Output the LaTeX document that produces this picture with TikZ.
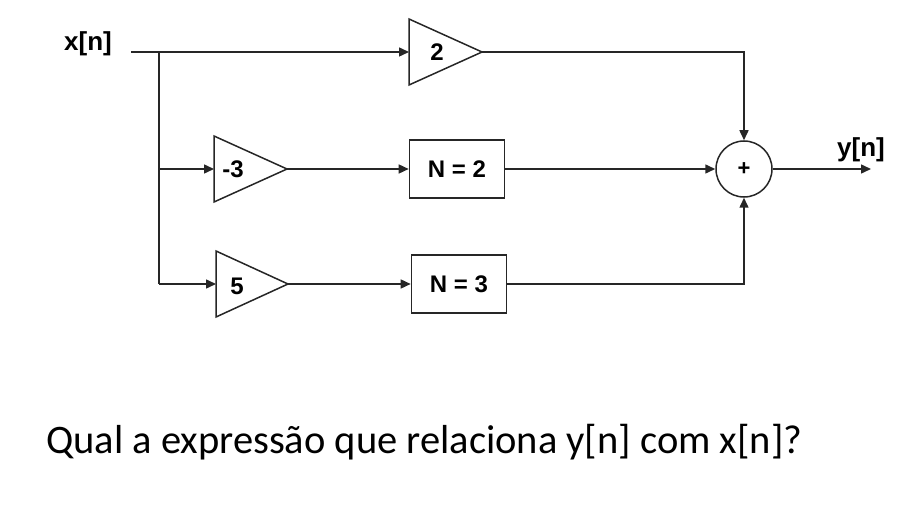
\documentclass[tikz,border=0pt]{standalone}
\usepackage{fontspec}
\setmainfont{Liberation Sans}
\newfontfamily\qfont{Carlito}
\usetikzlibrary{arrows.meta}
\begin{document}
\begin{tikzpicture}[x=1pt,y=-1pt,
  wire/.style={line width=1.5pt,draw=black!85},
  arr/.style={wire,-{Triangle[length=10pt,width=9pt]}},
  gainlbl/.style={font=\bfseries\fontsize{24}{24}\selectfont,inner sep=0pt},
  blk/.style={draw=black!85,line width=1.6pt,minimum width=95pt,minimum height=58pt,font=\bfseries\fontsize{24}{24}\selectfont,inner sep=0pt},
  sumnode/.style={circle,draw=black!85,line width=1.5pt,minimum size=56pt,inner sep=0pt,font=\bfseries\fontsize{22}{22}\selectfont},
  sig/.style={font=\bfseries\fontsize{26}{26}\selectfont,inner sep=0pt}]
\useasboundingbox (0,0) rectangle (922,508);
% input
\node[sig] (x) at (88,44) {x[n]};
\coordinate (xs) at (131,52);
\coordinate (br) at (159,52);
\coordinate (brm) at (159,169);
\coordinate (brb) at (159,284);
% gain 2
\coordinate (g1in) at (409,52);
\coordinate (g1out) at (482,52);
\draw[wire] (409,19) -- (409,85) -- (g1out) -- cycle;
\node[gainlbl] (g1) at (437,52) {2};
% gain -3
\coordinate (g2in) at (214,169);
\coordinate (g2out) at (287,169);
\draw[wire] (214,136) -- (214,202) -- (g2out) -- cycle;
\node[gainlbl] (g2) at (233,169) {-3};
% gain 5
\coordinate (g3in) at (216,284);
\coordinate (g3out) at (288,284);
\draw[wire] (216,251) -- (216,317) -- (g3out) -- cycle;
\node[gainlbl] (g3) at (237,286) {5};
% delay blocks
\node[blk] (d2) at (457,169) {N = 2};
\node[blk] (d3) at (459,284) {N = 3};
% summer
\node[sumnode] (s) at (744,169) {+};
\coordinate (yout) at (871,169);
\node[sig] (y) at (861,150) {y[n]};
\coordinate (c1) at (744,52);
\coordinate (c3) at (744,284);
% wiring
\draw[arr] (xs) -- (g1in);
\draw[wire] (br) -- (brb);
\draw[arr] (brm) -- (g2in);
\draw[arr] (brb) -- (g3in);
\draw[arr] (g2out) -- (d2.west);
\draw[arr] (g3out) -- (d3.west);
\draw[arr] (g1out) -- (c1) -- (s.north);
\draw[arr] (d2.east) -- (s.west);
\draw[arr] (d3.east) -- (c3) -- (s.south);
\draw[arr] (s.east) -- (yout);
% question
\node[anchor=base west,inner sep=0pt,font=\qfont\fontsize{40.5}{40.5}\selectfont] (q) at (46,453) {Qual a expressão que relaciona y[n] com x[n]?};
\end{tikzpicture}
\end{document}
